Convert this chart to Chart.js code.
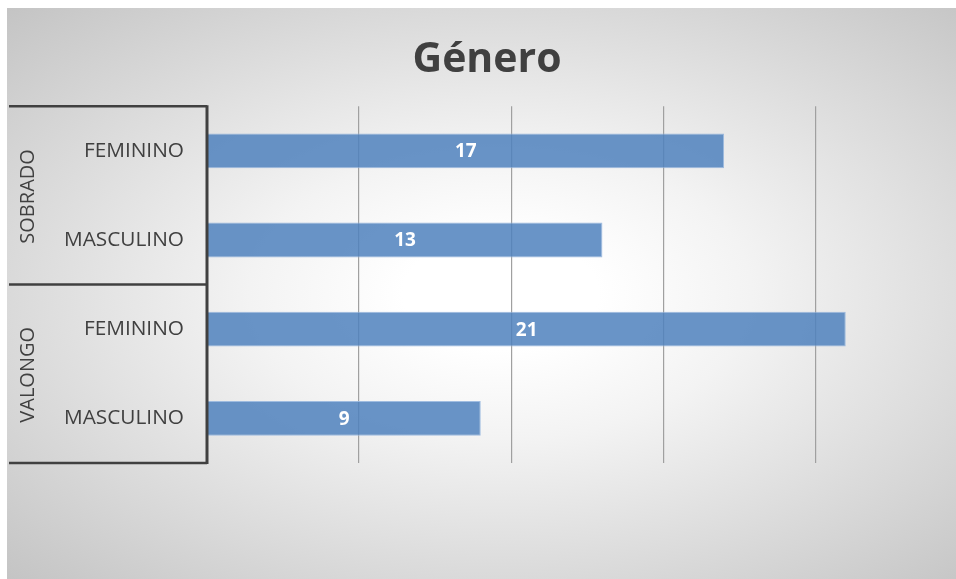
<!DOCTYPE html>
<html>
<head>
<meta charset="utf-8">
<script src="https://cdn.jsdelivr.net/npm/chart.js@4.4.0/dist/chart.umd.min.js"></script>
<style>
    body { margin: 0; background: #ffffff; }
    #wrap {
        position: absolute;
        left: 7px;
        top: 8px;
        width: 949px;
        height: 571px;
        background: radial-gradient(ellipse farthest-corner at 52% 50%, #ffffff 14%, #f3f3f3 36%, #c4c4c4 100%);
    }
</style>
</head>
<body>
<div id="wrap"><canvas id="generoCanvas" width="949" height="571"></canvas></div>
<script>
// data
const categories = ['FEMININO', 'MASCULINO', 'FEMININO', 'MASCULINO'];
const groups = ['SOBRADO', 'VALONGO'];
const values = [17, 13, 21, 9];

const textColor = '#404040';

// draws the two-level category box and the rotated group names
const groupBoxPlugin = {
    id: 'groupBox',
    afterDraw(chart) {
        const ctx = chart.ctx;
        const area = chart.chartArea;
        const yScale = chart.scales.y;
        const mid = (yScale.getPixelForTick(1) + yScale.getPixelForTick(2)) / 2;

        ctx.save();
        ctx.strokeStyle = textColor;
        ctx.lineWidth = 2.5;
        [area.top, mid, area.bottom].forEach(y => {
            ctx.beginPath();
            ctx.moveTo(2, y);
            ctx.lineTo(area.left, y);
            ctx.stroke();
        });
        ctx.lineWidth = 3;
        ctx.beginPath();
        ctx.moveTo(area.left, area.top - 1);
        ctx.lineTo(area.left, area.bottom + 1);
        ctx.stroke();

        ctx.fillStyle = textColor;
        ctx.font = '20px "Open Sans"';
        ctx.textAlign = 'center';
        ctx.textBaseline = 'middle';
        const centers = [(area.top + mid) / 2, (mid + area.bottom) / 2];
        groups.forEach((g, i) => {
            ctx.save();
            ctx.translate(21, centers[i] + 1);
            ctx.rotate(-Math.PI / 2);
            ctx.fillText(g, 0, 0);
            ctx.restore();
        });
        ctx.restore();
    }
};

// white value labels in the middle of each bar
const barLabelPlugin = {
    id: 'barLabels',
    afterDatasetsDraw(chart) {
        const ctx = chart.ctx;
        const meta = chart.getDatasetMeta(0);
        ctx.save();
        ctx.fillStyle = '#ffffff';
        ctx.font = 'bold 19px "Open Sans"';
        ctx.textAlign = 'center';
        ctx.textBaseline = 'middle';
        meta.data.forEach((bar, i) => {
            ctx.fillText(values[i], (bar.x + bar.base) / 2, bar.y + 1);
        });
        ctx.restore();
    }
};

const ctx = document.getElementById('generoCanvas').getContext('2d');

new Chart(ctx, {
    type: 'bar',
    data: {
        labels: categories,
        datasets: [{
            data: values,
            backgroundColor: 'rgba(79,129,189,0.85)',
            borderColor: 'rgba(150,182,222,0.9)',
            borderWidth: 1,
            barPercentage: 0.39,
            categoryPercentage: 1
        }]
    },
    options: {
        indexAxis: 'y',
        responsive: false,
        animation: false,
        layout: {
            padding: { top: 0, bottom: 116, left: 30, right: 19 }
        },
        plugins: {
            legend: { display: false },
            tooltip: { enabled: false },
            title: {
                display: true,
                text: 'Género',
                color: textColor,
                font: { family: 'Open Sans', size: 41, weight: 'bold' },
                padding: { top: 28, bottom: 21 }
            }
        },
        scales: {
            x: {
                min: 0,
                max: 24,
                ticks: { display: false, stepSize: 5 },
                border: { display: false },
                grid: {
                    drawTicks: false,
                    lineWidth: 1.2,
                    color: c => (c.tick && c.tick.value % 5 === 0 && c.tick.value > 0) ? '#a0a0a0' : 'rgba(0,0,0,0)'
                }
            },
            y: {
                afterFit: scale => { scale.width = 170; },
                ticks: {
                    color: textColor,
                    padding: 23,
                    font: { family: 'Open Sans', size: 20.8 }
                },
                border: { display: false },
                grid: { display: false, drawTicks: false }
            }
        }
    },
    plugins: [groupBoxPlugin, barLabelPlugin]
});
</script>
</body>
</html>
